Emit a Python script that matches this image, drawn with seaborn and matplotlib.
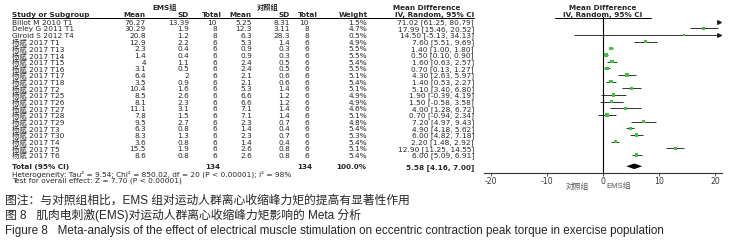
import numpy as np
import pandas as pd
import matplotlib
matplotlib.use("Agg")
import matplotlib.pyplot as plt
import matplotlib.transforms as mtransforms
import seaborn as sns

# study rows
study = ["Billot M 2010 T1", "Deley G 2011 T1", "Giroid S 2012 T4",
         "杨斌 2017 T1", "杨斌 2017 T13", "杨斌 2017 T14", "杨斌 2017 T15",
         "杨斌 2017 T16", "杨斌 2017 T17", "杨斌 2017 T18", "杨斌 2017 T2",
         "杨斌 2017 T25", "杨斌 2017 T26", "杨斌 2017 T27", "杨斌 2017 T28",
         "杨斌 2017 T29", "杨斌 2017 T3", "杨斌 2017 T30", "杨斌 2017 T4",
         "杨斌 2017 T5", "杨斌 2017 T6"]
ems_mean = [76.27, 30.29, 20.8, 12.9, 2.3, 1.4, 4, 3.1, 6.4, 3.5, 10.4,
            8.5, 8.1, 11.1, 7.8, 9.5, 6.3, 8.3, 3.6, 15.5, 8.6]
ems_sd = [13.39, 1.9, 1.2, 2.2, 0.4, 0.4, 1.1, 0.5, 2, 0.9, 1.6,
          2.6, 2.3, 3.1, 1.5, 2.7, 0.8, 1.3, 0.8, 1.9, 0.8]
ems_n = [10, 8, 8] + [6] * 18
ctl_mean = [5.25, 12.3, 6.3, 5.3, 0.9, 0.9, 2.4, 2.4, 2.1, 2.1, 5.3,
            6.6, 6.6, 7.1, 7.1, 2.3, 1.4, 2.3, 1.4, 2.6, 2.6]
ctl_sd = [8.31, 3.11, 28.3, 1.4, 0.3, 0.3, 0.5, 0.5, 0.6, 0.6, 1.4,
          1.2, 1.2, 1.4, 1.4, 0.7, 0.4, 0.7, 0.4, 0.8, 0.8]
ctl_n = [10, 8, 8] + [6] * 18
weight = [1.5, 4.7, 0.5, 4.9, 5.5, 5.5, 5.4, 5.5, 5.1, 5.4, 5.1,
          4.9, 4.9, 4.6, 5.1, 4.8, 5.4, 5.3, 5.4, 5.1, 5.4]
md = [71.02, 17.99, 14.50, 7.60, 1.40, 0.50, 1.60, 0.70, 4.30, 1.40, 5.10,
      1.90, 1.50, 4.00, 0.70, 7.20, 4.90, 6.00, 2.20, 12.90, 6.00]
ci_lo = [61.25, 15.46, -5.13, 5.51, 1.00, 0.10, 0.63, 0.13, 2.63, 0.53, 3.40,
         -0.39, -0.58, 1.28, -0.94, 4.97, 4.18, 4.82, 1.48, 11.25, 5.09]
ci_hi = [80.79, 20.52, 34.13, 9.69, 1.80, 0.90, 2.57, 1.27, 5.97, 2.27, 6.80,
         4.19, 3.58, 6.72, 2.34, 9.43, 5.62, 7.18, 2.92, 14.55, 6.91]
total_md, total_lo, total_hi = 5.58, 4.16, 7.00
ticks = [-20, -10, 0, 10, 20]

df = pd.DataFrame({"study": study, "md": md, "lo": ci_lo, "hi": ci_hi,
                   "weight": weight})
df["row"] = np.arange(len(df))

sns.set_style("white")
plt.rcParams["font.family"] = ["Liberation Sans", "Noto Sans CJK SC", "DejaVu Sans"]
tfam = ["DejaVu Sans", "Noto Sans CJK SC"]   # wider font for the table

W, H = 731, 253
fig = plt.figure(figsize=(W / 100, H / 100), dpi=100)

xmin, xmax = -21.2, 21.2
x0 = 603 + xmin * 5.6
x1 = 603 + xmax * 5.6
top_px, bot_px = 18, 174
row0, step = 22.7, 6.66
ax = fig.add_axes([x0 / W, 1 - bot_px / H, (x1 - x0) / W, (bot_px - top_px) / H])
ax.set_xlim(xmin, xmax)
ax.set_ylim((bot_px - row0) / step, (top_px - row0) / step)

# CI lines
for _, r in df.iterrows():
    lo = max(r["lo"], xmin)
    hi = min(r["hi"], xmax)
    if lo < hi:
        ax.hlines(r["row"], lo, hi, color="#333333", lw=0.7)
    if r["hi"] > xmax:
        ax.plot([xmax - 0.45], [r["row"]], marker=">", color="#222222",
                ms=2.6, clip_on=False)

vis = df[df["md"] < xmax]
sns.scatterplot(data=vis, x="md", y="row", size="weight", sizes=(2, 6),
                marker="s", color="#3ec43e", edgecolor="none", legend=False,
                ax=ax, zorder=3)

total_row = (167.3 - row0) / step
ax.fill([total_lo, total_md, total_hi, total_md],
        [total_row, total_row - 0.42, total_row, total_row + 0.42],
        color="black", lw=0)
ax.axvline(0, color="black", lw=0.8)

ax.set_xticks(ticks)
ax.set_xticklabels([str(t) for t in ticks], fontsize=5.6, color="#333333",
                   family=tfam)
ax.set_yticks([])
ax.set_xlabel("")
ax.set_ylabel("")
for s in ["top", "left", "right"]:
    ax.spines[s].set_visible(False)
ax.spines["bottom"].set_color("#333333")
ax.spines["bottom"].set_linewidth(0.8)
ax.tick_params(axis="x", length=2, width=0.6, pad=0.5, color="#333333",
               bottom=True)
ax.patch.set_alpha(0)

# table text
trans = mtransforms.blended_transform_factory(
    mtransforms.Affine2D().scale(1.0 / W, 1.0) + fig.transFigure, ax.transData)
fs = 5.3
fsb = 5.2


def fig_y(py):
    return 1 - py / H


def num(v):
    return f"{v:g}"


def cell(x, y, s, ha="right", bold=False):
    ax.text(x, y, s, transform=trans, fontsize=fsb if bold else fs, va="center",
            ha=ha, family=tfam, fontweight="bold" if bold else "normal")


for i in range(len(study)):
    cell(12, i, study[i], ha="left")
    cell(146, i, num(ems_mean[i]))
    cell(189, i, num(ems_sd[i]))
    cell(217, i, str(ems_n[i]))
    cell(252, i, num(ctl_mean[i]))
    cell(290, i, num(ctl_sd[i]))
    cell(309, i, str(ctl_n[i]))
    cell(367, i, f"{weight[i]:.1f}%")
    cell(474, i, f"{md[i]:.2f} [{ci_lo[i]:.2f}, {ci_hi[i]:.2f}]")

# total rows
cell(12, total_row, "Total (95% CI)", ha="left", bold=True)
cell(220, total_row, str(sum(ems_n)), bold=True)
cell(312, total_row, str(sum(ctl_n)), bold=True)
cell(366, total_row, "100.0%", bold=True)
cell(474, total_row, f"{total_md:.2f} [{total_lo:.2f}, {total_hi:.2f}]", bold=True)
fig.text(12 / W, fig_y(174), "Heterogeneity: Tau² = 9.54; Chi² = 850.02, df = 20 "
         "(P < 0.00001); I² = 98%", fontsize=fs, va="center", ha="left", family=tfam)
fig.text(12 / W, fig_y(180.5), "Test for overall effect: Z = 7.70 (P < 0.00001)",
         fontsize=fs, va="center", ha="left", family=tfam)

# headers
hdr = dict(fontsize=fsb, va="center", fontweight="bold", family=tfam)
fig.text(165 / W, fig_y(7), "EMS组", ha="center", **hdr)
fig.text(268 / W, fig_y(7), "对照组", ha="center", **hdr)
fig.text(427 / W, fig_y(8), "Mean Difference", ha="center", **hdr)
fig.text(603 / W, fig_y(8), "Mean Difference", ha="center", **hdr)
hy = fig_y(15.3)
fig.text(12 / W, hy, "Study or Subgroup", ha="left", **hdr)
fig.text(146 / W, hy, "Mean", ha="right", **hdr)
fig.text(189 / W, hy, "SD", ha="right", **hdr)
fig.text(222 / W, hy, "Total", ha="right", **hdr)
fig.text(252 / W, hy, "Mean", ha="right", **hdr)
fig.text(290 / W, hy, "SD", ha="right", **hdr)
fig.text(318 / W, hy, "Total", ha="right", **hdr)
fig.text(368 / W, hy, "Weight", ha="right", **hdr)
fig.text(474 / W, hy, "IV, Random, 95% CI", ha="right", **hdr)
fig.text(603 / W, hy, "IV, Random, 95% CI", ha="center", **hdr)
fig.add_artist(plt.Line2D([12 / W, 474 / W], [fig_y(18.5)] * 2, color="black", lw=0.7))
fig.add_artist(plt.Line2D([555 / W, 651 / W], [fig_y(18.5)] * 2, color="black", lw=0.7))

fig.text(577 / W, fig_y(186.5), "对照组", ha="center", va="center", fontsize=5.6, color="#555555")
fig.text(619 / W, fig_y(186.5), "EMS组", ha="center", va="center", fontsize=5.6, color="#555555")

# captions
fig.text(5 / W, fig_y(200.5), "图注：与对照组相比，EMS 组对运动人群离心收缩峰力矩的提高有显著性作用",
         fontsize=8.5, va="center", ha="left")
fig.text(5 / W, fig_y(215.5), "图 8   肌肉电刺激(EMS)对运动人群离心收缩峰力矩影响的 Meta 分析",
         fontsize=8.5, va="center", ha="left")
fig.text(5 / W, fig_y(231), "Figure 8   Meta-analysis of the effect of electrical muscle "
         "stimulation on eccentric contraction peak torque in exercise population",
         fontsize=8.4, va="center", ha="left")

fig.savefig("out.png", dpi=100)
